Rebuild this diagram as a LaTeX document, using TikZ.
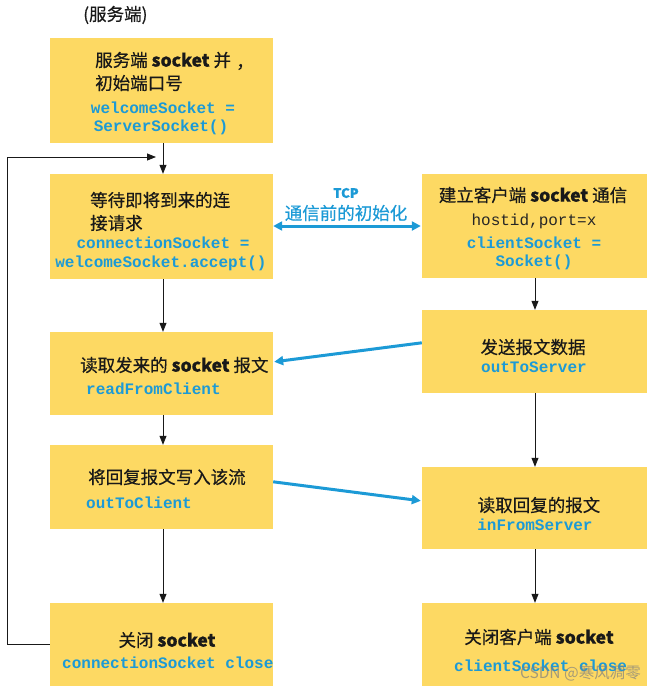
\documentclass[tikz,border=0pt]{standalone}
\usepackage{fontspec}
\setmainfont[FakeBold=0.5]{Noto Sans CJK SC}
\newfontfamily\monof{Liberation Mono}
\newfontfamily\wmfont{Noto Sans CJK SC}
\usetikzlibrary{arrows.meta}
\definecolor{boxy}{HTML}{FDD963}
\definecolor{codeb}{HTML}{1C9AD6}
\tikzset{
  box/.style={fill=boxy,draw=none,minimum width=#1,inner sep=0},
  lbox/.style={box,minimum width=223pt},
  rbox/.style={box,minimum width=225pt},
  cn/.style={font=\fontsize{17.5}{20}\selectfont,text=black!90,inner sep=0},
  code/.style={font=\fontsize{16}{19}\monof\bfseries,text=codeb,inner sep=0},
  plain/.style={font=\fontsize{16}{19}\monof,text=black!85,inner sep=0},
  flow/.style={-{Triangle[length=9pt,width=7pt]},line width=0.8pt,black!90},
  blue/.style={line width=3pt,codeb,-{Triangle[length=9pt,width=9pt]}},
}
\begin{document}
\begin{tikzpicture}[x=1pt,y=-1pt]
\useasboundingbox (0,0) rectangle (652,691);
% boxes
\node[lbox,minimum height=105pt] (b1) at (161.5,90.5) {};
\node[lbox,minimum height=105pt] (b2) at (161.5,226.5) {};
\node[lbox,minimum height=83pt] (b3) at (161.5,373.5) {};
\node[lbox,minimum height=84pt] (b4) at (161.5,487) {};
\node[lbox,minimum height=83pt] (b5) at (161.5,644.5) {};
\node[rbox,minimum height=104pt] (r1) at (534.5,226) {};
\node[rbox,minimum height=83pt] (r2) at (534.5,351.5) {};
\node[rbox,minimum height=82pt] (r3) at (534.5,508) {};
\node[rbox,minimum height=83pt] (r4) at (534.5,644.5) {};
% header
\node[cn,anchor=west] (hdr) at (83,15) {(服务端)};
% box 1
\node[cn,anchor=west] (t11) at (95,60) {服务端 \textbf{socket} 并};
\node[cn,anchor=west] (t12) at (95,83) {初始端口号};
\node[cn] (t1c) at (245,67) {，};
\node[code] (t13) at (163,108) {welcomeSocket =};
\node[code] (t14) at (161,127) {ServerSocket()};
% box 2
\node[cn,anchor=west] (t21) at (90,200) {等待即将到来的连};
\node[cn,anchor=west] (t22) at (90,223) {接请求};
\node[code] (t23) at (163,243) {connectionSocket =};
\node[code] (t24) at (161,263) {welcomeSocket.accept()};
% box 3
\node[cn,anchor=west] (t31) at (80,365) {读取发来的 \textbf{socket} 报文};
\node[code,anchor=west] (t32) at (86,389) {readFromClient};
% box 4
\node[cn,anchor=west] (t41) at (88,477) {将回复报文写入该流};
\node[code,anchor=west] (t42) at (86,503) {outToClient};
% box 5
\node[cn] (t51) at (167,640) {关闭 \textbf{socket}};
\node[code,anchor=west] (t52) at (62,663) {connectionSocket close};
% right 1
\node[cn] (u11) at (533,195) {建立客户端 \textbf{socket} 通信};
\node[plain] (u12) at (534,221) {hostid,port=x};
\node[code] (u13) at (534,243) {clientSocket =};
\node[code] (u14) at (534,262) {Socket()};
% right 2
\node[cn] (u21) at (533,347) {发送报文数据};
\node[code] (u22) at (534,367) {outToServer};
% right 3
\node[cn] (u31) at (539,505) {读取回复的报文};
\node[code] (u32) at (535,525) {inFromServer};
% right 4
\node[cn] (u41) at (539,637) {关闭客户端 \textbf{socket}};
\node[code,anchor=west] (u42) at (454,666) {clientSocket close};
% TCP label
\node[font=\fontsize{13}{15}\selectfont\bfseries,text=codeb,inner sep=0] (tcp) at (346,193) {TCP};
\node[font=\fontsize{17.5}{20}\selectfont,text=codeb,inner sep=0] (init) at (346,213) {通信前的初始化};
% watermark
\node[font=\fontsize{15.5}{18}\wmfont,text=gray,opacity=0.7,inner sep=0,anchor=east] (wm) at (641,673) {CSDN @寒风凋零};
% flow arrows left
\draw[flow] (b1.south -| 163,0) -- (b2.north -| 163,0);
\draw[flow] (b2.south -| 163,0) -- (b3.north -| 163,0);
\draw[flow] (b3.south -| 163,0) -- (b4.north -| 163,0);
\draw[flow] (b4.south -| 163,0) -- (b5.north -| 163,0);
% loop
\coordinate (lp) at (156,157);
\draw[flow] (b5.west) -- (7,644.5) |- (lp);
% right flow
\draw[flow] (r1.south -| 535,0) -- (r2.north -| 535,0);
\draw[flow] (r2.south -| 535,0) -- (r3.north -| 535,0);
\draw[flow] (r3.south -| 535,0) -- (r4.north -| 535,0);
% blue arrows
\draw[blue,{Triangle[length=9pt,width=9pt]}-{Triangle[length=9pt,width=9pt]}] ([yshift=0.5pt]b2.east) -- ([xshift=-1pt]r1.west);
\draw[blue] ([yshift=-33pt]r2.north west) -- ([xshift=1pt,yshift=-30pt]b3.north east);
\draw[blue] ([yshift=-37pt]b4.north east) -- ([xshift=-1pt,yshift=-34pt]r3.north west);
\end{tikzpicture}
\end{document}
